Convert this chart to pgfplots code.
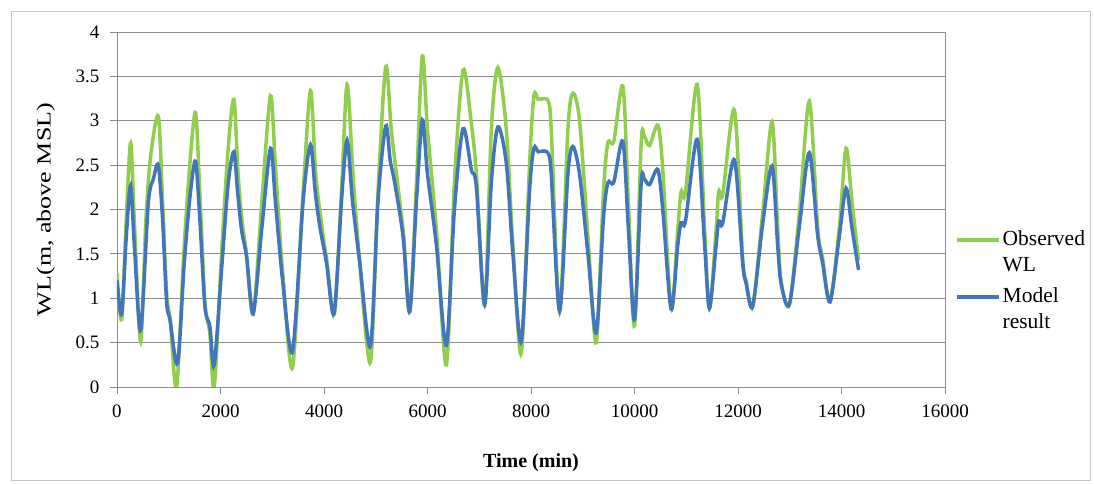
\documentclass[border=0pt]{standalone}
\usepackage{fontspec}
\setmainfont{Liberation Serif}
\usepackage{pgfplots}
\pgfplotsset{compat=1.18}
\definecolor{obsgreen}{RGB}{144,206,76}
\definecolor{modblue}{RGB}{66,118,186}
\definecolor{gridgray}{RGB}{140,140,140}

\pgfplotstableread{
t wl
0 1.28
90 0.76
180 1.9
264 2.75
340 1.8
457 0.51
560 1.9
650 2.6
798 3.05
880 2.1
960 1.05
1030 0.75
1152 0.0
1300 1.6
1420 2.6
1519 3.09
1600 2.2
1699 0.95
1795 0.6
1879 0.0
2030 1.6
2150 2.7
2259 3.24
2340 2.4
2420 1.85
2503 1.5
2632 0.82
2800 2.1
2966 3.28
3060 2.5
3200 1.3
3391 0.22
3597 2.2
3739 3.34
3840 2.4
3960 1.8
4060 1.4
4200 0.82
4338 2.2
4446 3.41
4560 2.4
4691 1.4
4897 0.28
5044 2.2
5193 3.61
5300 2.9
5420 2.3
5540 1.7
5656 0.85
5787 2.3
5900 3.73
6000 2.9
6172 1.77
6364 0.25
6520 2.3
6686 3.57
6847 2.97
6943 2.41
7104 0.92
7233 2.9
7361 3.60
7523 2.9
7650 1.6
7812 0.38
7973 2.52
8056 3.28
8140 3.24
8250 3.25
8340 3.21
8391 2.9
8552 0.85
8713 2.9
8809 3.31
8938 3.0
9100 1.7
9260 0.50
9400 2.2
9485 2.75
9600 2.77
9775 3.39
9880 2.1
10000 0.69
10129 2.75
10193 2.82
10290 2.72
10450 2.95
10546 2.45
10708 0.88
10836 1.77
10900 2.20
10985 2.19
11210 3.41
11355 1.77
11448 0.88
11577 1.77
11627 2.20
11705 2.17
11930 3.12
12090 1.45
12156 1.2
12285 0.91
12477 1.96
12658 2.99
12766 1.8
12831 1.2
12992 0.93
13185 1.96
13378 3.22
13539 1.8
13635 1.45
13778 0.96
13958 1.8
14087 2.69
14200 2.1
14330 1.43
}\observed

\pgfplotstableread{
t wl
0 1.20
90 0.82
180 1.7
264 2.27
340 1.55
457 0.64
605 2.07
702 2.34
798 2.50
880 1.9
960 0.95
1023 0.76
1171 0.27
1300 1.4
1420 2.2
1519 2.54
1600 1.9
1699 0.91
1795 0.68
1879 0.25
2030 1.4
2150 2.3
2259 2.65
2330 2.2
2407 1.77
2503 1.47
2632 0.83
2800 1.8
2966 2.69
3060 2.1
3200 1.2
3391 0.40
3597 2.1
3739 2.73
3830 2.2
3919 1.81
4048 1.40
4195 0.83
4338 2.1
4446 2.78
4550 2.1
4691 1.4
4897 0.46
5044 2.1
5193 2.94
5280 2.55
5367 2.30
5527 1.70
5656 0.85
5787 2.1
5900 3.01
6000 2.4
6172 1.6
6364 0.47
6520 2.0
6686 2.91
6847 2.45
6943 2.26
7104 0.93
7233 2.3
7361 2.93
7523 2.52
7650 1.5
7812 0.51
7973 2.22
8056 2.69
8140 2.65
8250 2.66
8340 2.62
8391 2.4
8552 0.86
8713 2.4
8809 2.71
8938 2.4
9100 1.5
9260 0.61
9400 1.9
9485 2.30
9600 2.31
9775 2.77
9880 1.8
10000 0.76
10129 2.30
10193 2.34
10290 2.28
10450 2.45
10546 2.0
10708 0.88
10836 1.6
10900 1.85
10985 1.87
11210 2.79
11355 1.6
11448 0.89
11577 1.6
11627 1.87
11705 1.85
11930 2.56
12090 1.40
12156 1.17
12285 0.91
12477 1.84
12658 2.49
12766 1.6
12831 1.17
12992 0.93
13185 1.81
13378 2.64
13539 1.71
13635 1.40
13778 0.96
13958 1.70
14087 2.24
14200 1.8
14330 1.32
}\model

\begin{document}
\begin{tikzpicture}
\useasboundingbox (-117pt,-97pt) rectangle (977pt,387pt);
\draw[gray!45, line width=0.8pt] (-106pt,-93pt) rectangle (973pt,376pt);
\begin{axis}[
  at={(0pt,0pt)}, anchor=south west,
  width=828pt, height=355pt, scale only axis,
  xmin=0, xmax=16000, ymin=0, ymax=4,
  xtick={0,2000,...,16000}, ytick={0,0.5,...,4},
  scaled x ticks=false,
  /pgf/number format/1000 sep={},
  /pgf/number format/assume math mode=true,
  tick pos=left, tick align=outside,
  major tick length=7pt,
  axis line style={gridgray, line width=0.8pt},
  tick style={gridgray, line width=0.8pt},
  ymajorgrids, major grid style={gridgray, line width=0.8pt},
  tick label style={font=\fontsize{19}{21}\selectfont},
  xticklabel style={yshift=-7pt},
  yticklabel style={xshift=-7pt},
  xlabel={\textbf{Time (min)}},
  ylabel={\scalebox{1.3}[1]{WL(m, above MSL)}},
  xlabel style={font=\fontsize{20}{22}\selectfont, yshift=-29pt},
  ylabel style={font=\fontsize{20}{22}\selectfont, yshift=14pt},
  legend style={at={(1.012,0.30)}, anchor=west, draw=none, fill=none,
    font=\fontsize{21.5}{26}\selectfont, cells={align=left},
    row sep=11pt, inner sep=0pt},
  legend cell align=left,
  legend image code/.code={\draw[#1, line width=3.5pt] (0pt,12pt) -- (42pt,12pt);},
]
\addplot[obsgreen, line width=3.5pt, smooth, tension=0.5] table[x=t, y=wl] {\observed};
\addlegendentry{Observed\\WL}
\addplot[modblue, line width=3.5pt, smooth, tension=0.5] table[x=t, y=wl] {\model};
\addlegendentry{Model\\result}
\end{axis}
\end{tikzpicture}
\end{document}
